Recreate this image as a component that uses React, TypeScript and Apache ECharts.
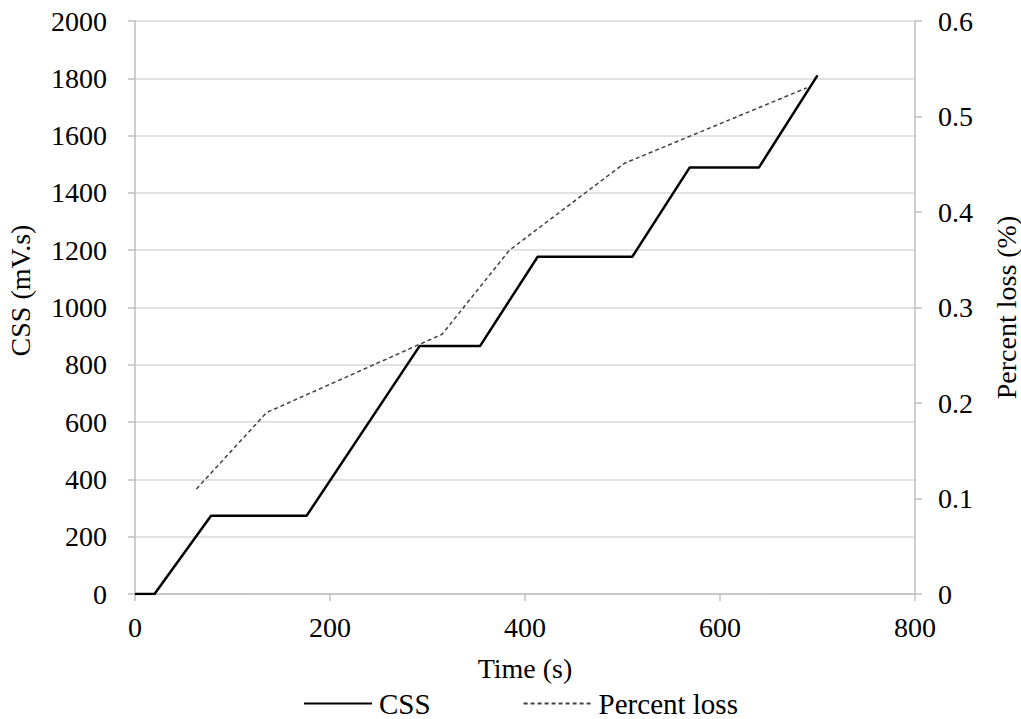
import React, { useEffect, useRef } from "react";
import * as echarts from "echarts";

const cssTime = [0, 20, 78, 176, 292, 354, 413, 510, 569, 640, 700];
const cssValue = [0, 0, 273, 273, 866, 866, 1177, 1177, 1489, 1489, 1810];

const lossTime = [63, 135, 315, 384, 502, 689];
const lossValue = [0.11, 0.19, 0.272, 0.36, 0.451, 0.53];

const leftTicks = [0, 200, 400, 600, 800, 1000, 1200, 1400, 1600, 1800, 2000];
const rightTicks = [0, 0.1, 0.2, 0.3, 0.4, 0.5, 0.6];
const xTicks = [0, 200, 400, 600, 800];

const FONT = "'Liberation Serif', 'Times New Roman', serif";
const FS = 28;

export default function App() {
  const ref = useRef<HTMLDivElement>(null);
  useEffect(() => {
    if (!ref.current) return;
    const chart = echarts.init(ref.current, null, { renderer: "svg" });
    const axisLine = { show: true, lineStyle: { color: "#bfbfbf", width: 1.5 } };
    const axisTick = { show: true, length: 7, lineStyle: { color: "#bfbfbf", width: 1.5 } };
    const txt = { fontFamily: FONT, fontSize: FS, color: "#000" };
    chart.setOption({
      animation: false,
      backgroundColor: "#ffffff",
      textStyle: { fontFamily: FONT, color: "#000" },
      grid: { left: 135, right: 106, top: 21, bottom: 125, containLabel: false, outerBoundsMode: "none" },
      legend: {
        top: 689,
        left: 303,
        padding: 0,
        itemWidth: 68,
        itemHeight: 12,
        itemGap: 92,
        itemStyle: { opacity: 0 },
        textStyle: { ...txt, fontSize: 29, padding: [0, 0, 0, 2] },
        data: ["CSS", "Percent loss"],
      },
      xAxis: {
        type: "value",
        min: xTicks[0],
        max: xTicks[xTicks.length - 1],
        interval: 200,
        name: "Time (s)",
        nameLocation: "middle",
        nameGap: 60,
        nameTextStyle: txt,
        axisLine,
        axisTick,
        axisLabel: { ...txt, margin: 19, formatter: (v: number) => String(v) },
        splitLine: { show: false },
      },
      yAxis: [
        {
          type: "value",
          min: leftTicks[0],
          max: leftTicks[leftTicks.length - 1],
          interval: 200,
          name: "CSS (mV.s)",
          nameLocation: "middle",
          nameRotate: 90,
          nameGap: 101,
          nameTextStyle: { ...txt, padding: [0, 0, 0, 34] },
          axisLine,
          axisTick,
          axisLabel: { ...txt, margin: 28, formatter: (v: number) => String(v) },
          splitLine: { show: true, lineStyle: { color: "#d9d9d9", width: 1.5 } },
        },
        {
          type: "value",
          position: "right",
          min: rightTicks[0],
          max: rightTicks[rightTicks.length - 1],
          interval: 0.1,
          name: "Percent loss (%)",
          nameLocation: "middle",
          nameRotate: 90,
          nameGap: 77,
          nameTextStyle: txt,
          axisLine,
          axisTick,
          axisLabel: { ...txt, margin: 23, formatter: (v: number) => String(Math.round(v * 10) / 10) },
          splitLine: { show: false },
        },
      ],
      series: [
        {
          name: "CSS",
          type: "line",
          yAxisIndex: 0,
          symbol: "none",
          data: cssTime.map((t, i) => [t, cssValue[i]]),
          lineStyle: { color: "#000", width: 2.5 },
          itemStyle: { color: "#000" },
        },
        {
          name: "Percent loss",
          type: "line",
          yAxisIndex: 1,
          symbol: "none",
          data: lossTime.map((t, i) => [t, lossValue[i]]),
          lineStyle: { color: "#404040", width: 1.5, type: [4, 3] },
          itemStyle: { color: "#404040" },
        },
      ],
    });
    return () => chart.dispose();
  }, []);
  return <div ref={ref} style={{ width: 1021, height: 719, position: "absolute", left: 0, top: 0 }} />;
}
